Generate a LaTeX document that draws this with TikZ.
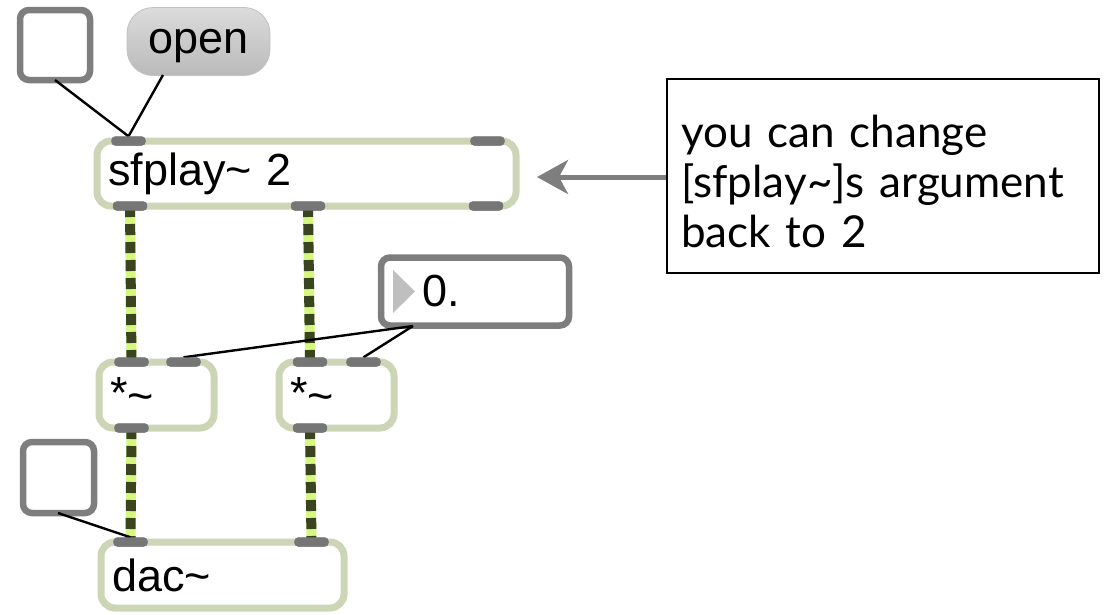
\documentclass[tikz,border=0pt]{standalone}
\usepackage{fontspec}
\newfontfamily\maxfont{Liberation Sans}
\newfontfamily\commentfont{Lato}
\usetikzlibrary{arrows.meta}
\definecolor{objborder}{HTML}{CDD5B7}
\definecolor{portgray}{HTML}{767676}
\definecolor{uigray}{HTML}{7E7E7E}
\definecolor{cordlight}{HTML}{D6F77E}
\definecolor{corddark}{HTML}{3A4520}
\tikzset{
  maxtext/.style={font=\maxfont\fontsize{45}{50}\selectfont},
  obj/.style={draw=objborder, line width=7pt, rounded corners=14pt, fill=white,
    inner xsep=11pt, inner ysep=0pt, align=left, maxtext},
  uibox/.style={draw=uigray, line width=6.5pt, rounded corners=9pt, fill=white, inner sep=0pt},
  port/.style={fill=portgray, rounded corners=4pt, minimum width=34pt, minimum height=9pt, inner sep=0pt},
  ctl/.style={line width=2.4pt, black},
  cordbase/.style={line width=10pt, cordlight},
  cordtop/.style={line width=10pt, corddark, dash pattern=on 11pt off 7pt},
  pointer/.style={line width=5pt, uigray, -{Stealth[length=31pt,width=34pt,inset=9pt]}},
  notebox/.style={draw=black, line width=2.2pt, fill=white, inner sep=0pt},
  notetext/.style={inner sep=0pt, text width=400pt, align=left,
    font=\commentfont\fontsize{44}{50}\selectfont, anchor=base west}
}
\begin{document}
\begin{tikzpicture}[x=1pt,y=-1pt]
\useasboundingbox (0,0) rectangle (1105,614);
% objects
\node[uibox, minimum width=70pt, minimum height=70pt] (tog1) at (55,45) {};
\node[rounded corners=26pt, top color=black!14, bottom color=black!27, draw=black!24, line width=0.8pt,
  minimum width=143pt, minimum height=68pt, inner sep=0pt, text depth=0pt, maxtext] (open) at (198.5,41.5) {open};
\node[obj, minimum width=419pt, minimum height=65pt, text width=397pt] (sfplay) at (306.5,173.5) {sfplay\textasciitilde{} 2};
\node[uibox, minimum width=188pt, minimum height=68pt] (num) at (475,291.5) {};
\node[obj, minimum width=115pt, minimum height=66pt, text width=93pt] (mulL) at (156.5,395) {*\raisebox{-3pt}{\textasciitilde}};
\node[obj, minimum width=115pt, minimum height=66pt, text width=93pt] (mulR) at (336.5,395) {*\raisebox{-3pt}{\textasciitilde}};
\node[uibox, minimum width=71pt, minimum height=71pt] (tog2) at (58.5,477.5) {};
\node[obj, minimum width=243pt, minimum height=66pt, text width=221pt] (dac) at (222.5,575) {dac\textasciitilde};
% number box contents
\fill[black!25] (393,270) -- (415,291.5) -- (393,313) -- cycle;
\node[anchor=west, inner sep=0pt, maxtext] (numval) at (422,291.5) {0.};
% ports
\node[port] (sfIn1) at (128.5,141) {};
\node[port] (sfIn2) at (487.5,141) {};
\node[port] (sfOut1) at (130,206) {};
\node[port] (sfOut2) at (308,206) {};
\node[port] (sfOut3) at (486,206) {};
\node[port] (mLin1) at (131.5,362) {};
\node[port] (mLin2) at (183.5,362) {};
\node[port] (mLout) at (131.5,428) {};
\node[port] (mRin1) at (310,362) {};
\node[port] (mRin2) at (363.5,362) {};
\node[port] (mRout) at (310,428) {};
\node[port] (dacIn1) at (130.5,542) {};
\node[port] (dacIn2) at (311.5,542) {};
% signal cords
\foreach \a/\b in {sfOut1/mLin1, sfOut2/mRin1, mLout/dacIn1, mRout/dacIn2}{
  \draw[cordbase] (\a.center) -- (\b.center);
  \draw[cordtop] (\a.center) -- (\b.center);
}
% control lines
\coordinate (t1out) at (55,80);
\coordinate (openout) at (163,75);
\coordinate (numout) at (413,326);
\coordinate (t2out) at (58,513);
\draw[ctl] (t1out) -- (sfIn1.north);
\draw[ctl] (openout) -- (sfIn1.north);
\draw[ctl] (numout) -- (mLin2.north);
\draw[ctl] (numout) -- (mRin2.north);
\draw[ctl] (t2out) -- (dacIn1.north);
% redraw ports on top
\foreach \p in {sfIn1,sfIn2,sfOut1,sfOut2,sfOut3,mLin1,mLin2,mLout,mRin1,mRin2,mRout,dacIn1,dacIn2}{
  \fill[portgray, rounded corners=4pt] (\p.south west) rectangle (\p.north east);
}
% comment
\node[notebox, minimum width=432pt, minimum height=194pt] (comment) at (883,176) {};
\node[notetext] (commenttext) at (681,147) {you can change\\{[}sfplay\textasciitilde{}]s argument\\back to 2};
\coordinate (tip) at (537,177);
\draw[pointer] (comment.west |- tip) -- (tip);
\end{tikzpicture}
\end{document}
